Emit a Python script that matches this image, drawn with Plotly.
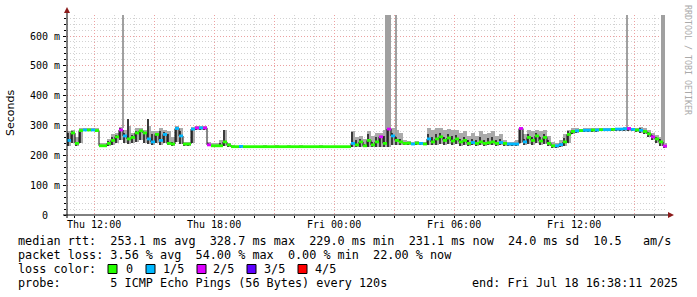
import plotly.graph_objects as go
import pandas as pd

# ---------------- data ----------------
START = "2025-07-17 10:38:11"
END = "2025-07-18 16:38:11"
BIN_MIN = 12

median_ms = [
    250, 275, 240, 283, 285, 285, 285, 283, 232, 232,
    240, 250, 262, 285, 265, 255, 260, 275, 282, 275,
    255, 245, 270, 250, 270, 240, 238, 290, 265, 238,
    238, 288, 292, 292, 292, 235, 232, 232, 232, 245,
    235, 229, 229, 230, 229, 229, 229, 229, 229, 229,
    229, 229, 229, 229, 229, 229, 229, 229, 229, 229,
    229, 229, 229, 229, 229, 229, 229, 229, 229, 229,
    229, 240, 235, 245, 232, 250, 235, 245, 262, 240,
    288, 265, 250, 245, 240, 241, 238, 241, 240, 238,
    255, 245, 255, 262, 250, 258, 248, 255, 245, 250,
    240, 243, 240, 245, 240, 242, 245, 240, 243, 240,
    238, 238, 238, 290, 245, 260, 250, 265, 248, 260,
    240, 232, 232, 236, 245, 270, 280, 282, 283, 284,
    284, 285, 285, 286, 286, 286, 287, 288, 288, 289,
    290, 287, 285, 284, 280, 272, 262, 255, 245, 231,
]

loss_fifths = [
    1, 0, 0, 0, 1, 0, 1, 0, 0, 0,
    0, 0, 0, 2, 1, 0, 0, 0, 0, 0,
    1, 1, 0, 1, 1, 0, 0, 1, 1, 0,
    0, 1, 2, 1, 2, 2, 0, 0, 0, 0,
    0, 0, 0, 1, 0, 0, 0, 0, 0, 0,
    0, 0, 0, 0, 0, 0, 0, 0, 0, 0,
    0, 0, 0, 0, 0, 0, 0, 0, 0, 0,
    0, 1, 0, 0, 0, 0, 0, 0, 2, 0,
    2, 1, 0, 0, 0, 0, 1, 0, 1, 0,
    1, 0, 0, 0, 0, 0, 0, 0, 0, 0,
    0, 1, 0, 0, 0, 0, 0, 0, 1, 0,
    1, 1, 1, 2, 1, 0, 0, 0, 0, 0,
    0, 0, 1, 1, 0, 0, 0, 1, 0, 1,
    1, 0, 1, 0, 1, 1, 0, 1, 1, 1,
    2, 1, 0, 1, 0, 0, 2, 0, 0, 2,
]

smoke_lo = [
    232, 240, 232, 240, 280, 280, 280, 278, 229, 229,
    232, 235, 240, 250, 240, 238, 240, 245, 250, 240,
    238, 235, 240, 235, 240, 235, 232, 245, 238, 232,
    232, 240, 286, 286, 286, 230, 229, 229, 229, 232,
    229, 226, 226, 226, 226, 226, 226, 226, 226, 226,
    226, 226, 226, 226, 226, 226, 226, 226, 226, 226,
    226, 226, 226, 226, 226, 226, 226, 226, 226, 226,
    226, 229, 229, 229, 229, 229, 229, 229, 229, 229,
    229, 235, 235, 235, 233, 233, 233, 233, 233, 233,
    235, 235, 235, 238, 235, 238, 235, 238, 232, 235,
    232, 235, 232, 235, 232, 235, 235, 232, 235, 232,
    232, 232, 232, 240, 235, 238, 235, 240, 235, 238,
    232, 226, 226, 228, 232, 240, 270, 275, 278, 278,
    278, 278, 278, 280, 280, 280, 280, 282, 282, 282,
    282, 280, 278, 276, 270, 260, 250, 242, 232, 226,
]

smoke_hi = [
    280, 285, 260, 290, 290, 290, 290, 290, 240, 240,
    255, 270, 275, 295, 285, 300, 275, 290, 290, 285,
    300, 280, 280, 290, 285, 280, 260, 300, 290, 245,
    245, 295, 297, 297, 297, 245, 240, 240, 250, 285,
    240, 233, 232, 235, 232, 232, 232, 232, 232, 233,
    232, 232, 234, 232, 232, 233, 232, 232, 234, 232,
    232, 232, 232, 234, 232, 232, 232, 232, 232, 232,
    232, 280, 262, 265, 255, 280, 265, 275, 275, 285,
    300, 290, 285, 275, 250, 248, 245, 248, 245, 245,
    290, 285, 292, 292, 285, 288, 285, 285, 275, 280,
    265, 275, 265, 280, 270, 275, 280, 265, 270, 250,
    245, 245, 250, 295, 270, 285, 280, 285, 280, 285,
    265, 245, 240, 250, 270, 285, 290, 290, 288, 290,
    290, 290, 290, 292, 292, 292, 292, 293, 293, 295,
    295, 292, 290, 295, 290, 285, 275, 268, 260, 240,
]

dark_hi = [
    275, 280, 245, 285, 287, 287, 287, 286, 236, 236,
    248, 262, 268, 290, 275, 322, 268, 282, 285, 278,
    322, 270, 275, 282, 278, 270, 245, 295, 280, 240,
    240, 292, 294, 294, 294, 240, 235, 235, 240, 285,
    232, 231, 231, 231, 231, 231, 231, 231, 231, 231,
    231, 231, 231, 231, 231, 231, 231, 231, 231, 231,
    231, 231, 231, 231, 231, 231, 231, 231, 231, 231,
    231, 278, 250, 255, 238, 270, 245, 260, 265, 265,
    290, 275, 262, 255, 243, 243, 240, 243, 242, 240,
    272, 260, 270, 275, 262, 270, 265, 268, 255, 262,
    250, 255, 250, 262, 252, 258, 262, 250, 255, 243,
    240, 240, 242, 292, 255, 272, 262, 275, 262, 272,
    250, 236, 236, 240, 258, 280, 284, 285, 285, 286,
    286, 287, 287, 288, 288, 288, 289, 290, 290, 291,
    292, 289, 287, 290, 285, 278, 268, 262, 255, 236,
]

spike_times = [
    "2025-07-17 13:26", "2025-07-18 02:35", "2025-07-18 02:38",
    "2025-07-18 02:41", "2025-07-18 02:44", "2025-07-18 02:47",
    "2025-07-18 03:05", "2025-07-18 14:38", "2025-07-18 16:23",
    "2025-07-18 16:29",
]
spike_lo = [290, 280, 285, 288, 285, 280, 260, 290, 250, 240]
spike_hi = [720, 720, 720, 720, 720, 720, 720, 720, 720, 720]

loss_levels = ["0", "1/5", "2/5", "3/5", "4/5"]
loss_colors = ["#26ff00", "#00b8ff", "#dd00ff", "#5e00ff", "#ff0000"]

y_tick_vals = [0, 100, 200, 300, 400, 500, 600]
y_tick_text = ["0", "100 m", "200 m", "300 m", "400 m", "500 m", "600 m"]
x_tick_vals = ["2025-07-17 12:00", "2025-07-17 18:00", "2025-07-18 00:00",
               "2025-07-18 06:00", "2025-07-18 12:00"]
x_tick_text = ["Thu 12:00", "Thu 18:00", "Fri 00:00", "Fri 06:00", "Fri 12:00"]

legend_rows = [
    "median rtt:  253.1 ms avg  328.7 ms max  229.0 ms min  231.1 ms now  24.0 ms sd  10.5   am/s",
    "packet loss: 3.56 % avg  54.00 % max  0.00 % min  22.00 % now",
    "loss color:",
    "probe:       5 ICMP Echo Pings (56 Bytes) every 120s",
]
end_text = "end: Fri Jul 18 16:38:11 2025"

# ---------------- geometry (pixels) ----------------
W, H = 697, 297
L, R, T, B = 67, 30, 15, 82
PW, PH = W - L - R, H - T - B
Y_MAX = 670.4


def px(xp):
    return (xp - L) / PW


def py(yp):
    return (H - B - yp) / PH


# ---------------- derived ----------------
t0 = pd.Timestamp(START)
t_end = pd.Timestamp(END)
step = pd.Timedelta(minutes=BIN_MIN)
n = len(median_ms)
bin_start = [t0 + step * i for i in range(n)]
bin_mid = [b + step / 2 for b in bin_start]
bin_w_ms = BIN_MIN * 60 * 1000
dark_x = [b + step * 0.35 for b in bin_start]

fig = go.Figure()

# light smoke
fig.add_trace(go.Bar(
    x=bin_mid, base=smoke_lo, y=[h - l for h, l in zip(smoke_hi, smoke_lo)],
    width=bin_w_ms, marker=dict(color="#aaaaaa", line_width=0),
    hoverinfo="skip", showlegend=False))
# spikes
fig.add_trace(go.Bar(
    x=pd.to_datetime(spike_times), base=spike_lo,
    y=[h - l for h, l in zip(spike_hi, spike_lo)],
    width=130000, marker=dict(color="#a0a0a0", line_width=0),
    hoverinfo="skip", showlegend=False))
# dark smoke (thin bars)
fig.add_trace(go.Bar(
    x=dark_x, base=smoke_lo, y=[h - l for h, l in zip(dark_hi, smoke_lo)],
    width=bin_w_ms * 0.45, marker=dict(color="#3a3a3a", line_width=0),
    hoverinfo="skip", showlegend=False))

# black step median
fig.add_trace(go.Scatter(
    x=bin_start + [t_end], y=median_ms + [median_ms[-1]],
    mode="lines", line=dict(color="#101010", width=1, shape="hv"),
    hoverinfo="skip", showlegend=False))

# coloured median segments by loss
for lvl, col in enumerate(loss_colors):
    xs, ys = [], []
    for i in range(n):
        if loss_fifths[i] == lvl:
            xs += [bin_start[i], bin_start[i] + step, None]
            ys += [median_ms[i], median_ms[i], None]
    if xs:
        fig.add_trace(go.Scatter(
            x=xs, y=ys, mode="lines", line=dict(color=col, width=2.8),
            hoverinfo="skip", showlegend=False, connectgaps=False))

# ticks / grid
major_x = pd.date_range("2025-07-17 12:00", "2025-07-18 15:00", freq="3h")
minor_x = [t for t in pd.date_range("2025-07-17 11:00", "2025-07-18 16:00", freq="1h")
           if t not in set(major_x)]

MONO = "DejaVu Sans Mono"

fig.update_layout(
    width=W, height=H,
    margin=dict(l=L, r=R, t=T, b=B, pad=0),
    paper_bgcolor="white", plot_bgcolor="white",
    barmode="overlay", bargap=0,
    showlegend=False,
    xaxis=dict(
        type="date", range=[t0, t_end], showline=False, zeroline=False,
        tickmode="array", tickvals=list(major_x), showticklabels=False,
        ticks="outside", ticklen=2, tickcolor="#000",
        showgrid=True, gridcolor="#eba0a0", griddash="1px,2px", gridwidth=1,
        minor=dict(tickmode="array", tickvals=minor_x, showgrid=True,
                   gridcolor="#d2d2d2", griddash="1px,2px", gridwidth=1,
                   ticks="outside", ticklen=2, tickcolor="#000"),
    ),
    yaxis=dict(
        range=[0, Y_MAX], showline=False, zeroline=False,
        tickmode="array", tickvals=y_tick_vals[1:], showticklabels=False,
        ticks="outside", ticklen=3, tickcolor="#000",
        showgrid=True, gridcolor="#eba0a0", griddash="1px,2px", gridwidth=1,
        minor=dict(tickmode="linear", tick0=0, dtick=20, showgrid=True,
                   gridcolor="#d2d2d2", griddash="1px,2px", gridwidth=1,
                   ticks="outside", ticklen=2, tickcolor="#000"),
    ),
)

ann = []
for v, t in zip(y_tick_vals, y_tick_text):
    ann.append(dict(x=px(45), xref="paper", y=v, yref="y", text=t, showarrow=False,
                    xanchor="center", yanchor="middle",
                    font=dict(family=MONO, size=10, color="#000")))
for v, t in zip(x_tick_vals, x_tick_text):
    ann.append(dict(x=pd.Timestamp(v), xref="x", y=py(224.5), yref="paper", text=t,
                    showarrow=False, xanchor="center", yanchor="middle",
                    font=dict(family=MONO, size=10, color="#000")))
ann.append(dict(x=px(10), xref="paper", y=py(113), yref="paper", text="Seconds",
                textangle=-90, showarrow=False, xanchor="center", yanchor="middle",
                font=dict(family="DejaVu Sans", size=11, color="#000")))
ann.append(dict(x=px(688), xref="paper", y=py(60), yref="paper",
                text="RRDTOOL / TOBI OETIKER", textangle=90, showarrow=False,
                xanchor="center", yanchor="middle",
                font=dict(family=MONO, size=8.3, color="#aaaaaa")))

row_y = [241, 255, 269, 283]
for ry, txt in zip(row_y, legend_rows):
    ann.append(dict(x=px(16), xref="paper", y=py(ry), yref="paper",
                    text=txt.replace(" ", "\u00a0"), showarrow=False,
                    xanchor="left", yanchor="middle",
                    font=dict(family=MONO, size=11.8, color="#000")))
ann.append(dict(x=px(680), xref="paper", y=py(283), yref="paper",
                text=end_text.replace(" ", "\u00a0"), showarrow=False,
                xanchor="right", yanchor="middle",
                font=dict(family=MONO, size=11.8, color="#000")))

box_x = [108, 146, 197, 247, 298]
lab_x = [124, 161, 211, 262, 313]
shapes = []
for bx, lx, lab, col in zip(box_x, lab_x, loss_levels, loss_colors):
    shapes.append(dict(type="rect", xref="paper", yref="paper",
                       x0=px(bx), x1=px(bx + 9), y0=py(273.5), y1=py(264.5),
                       fillcolor=col, line=dict(color="#000", width=1)))
    ann.append(dict(x=px(lx), xref="paper", y=py(269), yref="paper", text=lab,
                    showarrow=False, xanchor="left", yanchor="middle",
                    font=dict(family=MONO, size=11.8, color="#000")))

# axis lines and arrows
shapes.append(dict(type="line", xref="paper", yref="paper",
                   x0=px(63), x1=px(669), y0=py(215), y1=py(215),
                   line=dict(color="#000", width=1)))
shapes.append(dict(type="line", xref="paper", yref="paper",
                   x0=px(67), x1=px(67), y0=py(218), y1=py(12),
                   line=dict(color="#000", width=1)))
shapes.append(dict(type="path", xref="paper", yref="paper",
                   path=f"M {px(64)} {py(13)} L {px(70)} {py(13)} L {px(67)} {py(7)} Z",
                   fillcolor="#8b1a1a", line=dict(color="#8b1a1a", width=0)))
shapes.append(dict(type="path", xref="paper", yref="paper",
                   path=f"M {px(668)} {py(212)} L {px(668)} {py(218)} L {px(674)} {py(215)} Z",
                   fillcolor="#8b1a1a", line=dict(color="#8b1a1a", width=0)))

fig.update_layout(annotations=ann, shapes=shapes)
fig.write_html("out.html")
